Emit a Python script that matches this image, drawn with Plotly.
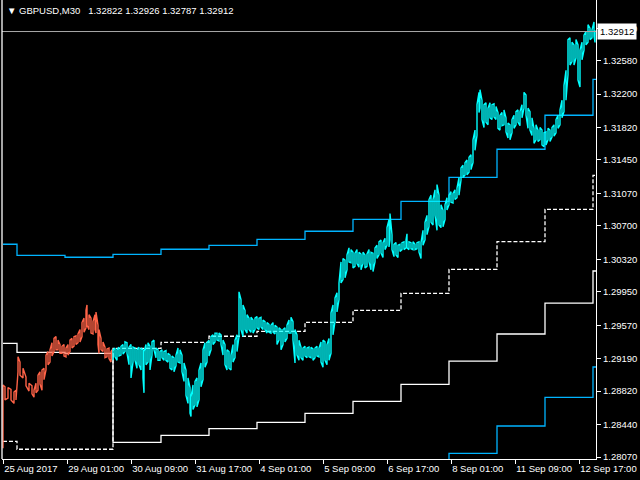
import plotly.graph_objects as go
import pandas as pd

# ---------------- data ----------------
symbol_title = "\u25bc GBPUSD,M30\u00a0\u00a0 1.32822 1.32926 1.32787 1.32912"
last_price = 1.32912
trend_switch = "2017-08-30 00:00"

bar_time = [
    "08-25 17:00", "08-25 18:00", "08-25 19:30", "08-25 21:00", "08-25 22:30", "08-25 23:30",
    "08-28 00:30", "08-28 01:30", "08-28 03:00", "08-28 04:30", "08-28 06:00", "08-28 07:30",
    "08-28 08:30", "08-28 09:30", "08-28 10:30", "08-28 11:30", "08-28 12:30", "08-28 13:30",
    "08-28 14:30", "08-28 15:30", "08-28 16:30", "08-28 17:30", "08-28 18:30", "08-28 19:30",
    "08-28 20:30", "08-28 21:30", "08-28 22:30", "08-28 23:30",
    "08-29 00:30", "08-29 01:30", "08-29 02:30", "08-29 03:30", "08-29 04:30", "08-29 05:30",
    "08-29 06:30", "08-29 07:30", "08-29 08:30", "08-29 09:30", "08-29 10:30", "08-29 11:00",
    "08-29 12:00", "08-29 13:00", "08-29 14:00", "08-29 15:00", "08-29 15:30", "08-29 16:30",
    "08-29 17:00", "08-29 18:00", "08-29 19:00", "08-29 20:00", "08-29 21:00", "08-29 22:00",
    "08-29 23:00", "08-29 23:30",
    "08-30 00:00", "08-30 01:00", "08-30 02:00", "08-30 03:00", "08-30 04:00", "08-30 05:00",
    "08-30 06:00", "08-30 07:00", "08-30 08:00", "08-30 09:00", "08-30 10:00", "08-30 11:00",
    "08-30 12:00", "08-30 13:00", "08-30 14:00", "08-30 15:00", "08-30 15:30", "08-30 16:30",
    "08-30 17:30", "08-30 18:30", "08-30 19:30", "08-30 20:30", "08-30 21:30", "08-30 22:30",
    "08-30 23:30",
    "08-31 00:30", "08-31 01:30", "08-31 02:30", "08-31 03:30", "08-31 04:30", "08-31 05:30",
    "08-31 06:30", "08-31 07:30", "08-31 08:30", "08-31 09:30", "08-31 10:30", "08-31 11:30",
    "08-31 12:30", "08-31 13:30", "08-31 14:30", "08-31 15:00", "08-31 16:00", "08-31 17:00",
    "08-31 18:00", "08-31 19:00", "08-31 20:00", "08-31 21:00", "08-31 22:00", "08-31 23:00",
    "09-01 00:00", "09-01 01:00", "09-01 02:00", "09-01 03:00", "09-01 04:00", "09-01 05:00",
    "09-01 06:00", "09-01 07:00", "09-01 08:00", "09-01 09:00", "09-01 10:00", "09-01 11:00",
    "09-01 12:00", "09-01 13:00", "09-01 14:00", "09-01 15:00", "09-01 16:00", "09-01 17:00",
    "09-01 18:00", "09-01 19:00", "09-01 20:00", "09-01 21:00", "09-01 22:00", "09-01 23:00",
    "09-04 00:00", "09-04 01:00", "09-04 02:00", "09-04 03:00", "09-04 04:00", "09-04 05:00",
    "09-04 06:00", "09-04 07:00", "09-04 08:00", "09-04 09:00", "09-04 10:00", "09-04 11:00",
    "09-04 12:00", "09-04 13:00", "09-04 14:00", "09-04 15:00", "09-04 16:00", "09-04 17:00",
    "09-04 18:00", "09-04 19:00", "09-04 20:00", "09-04 21:00", "09-04 22:00", "09-04 23:00",
    "09-05 00:00", "09-05 01:00", "09-05 02:00", "09-05 03:00", "09-05 04:00", "09-05 05:00",
    "09-05 06:00", "09-05 07:00", "09-05 08:00", "09-05 09:00", "09-05 10:00", "09-05 11:00",
    "09-05 12:00", "09-05 13:00", "09-05 14:00", "09-05 15:00", "09-05 16:00", "09-05 17:00",
    "09-05 18:00", "09-05 19:00", "09-05 20:00", "09-05 21:00", "09-05 22:00", "09-05 23:00",
    "09-06 00:00", "09-06 01:00", "09-06 02:00", "09-06 03:00", "09-06 04:00", "09-06 05:00",
    "09-06 06:00", "09-06 07:00", "09-06 08:00", "09-06 09:00", "09-06 10:00", "09-06 11:00",
    "09-06 12:00", "09-06 13:00", "09-06 14:00", "09-06 15:00", "09-06 16:00", "09-06 17:00",
    "09-06 18:00", "09-06 18:30", "09-06 19:30", "09-06 20:30", "09-06 21:30", "09-06 22:30",
    "09-06 23:30",
    "09-07 00:30", "09-07 01:30", "09-07 02:30", "09-07 03:00", "09-07 04:00", "09-07 05:00",
    "09-07 06:00", "09-07 07:00", "09-07 08:00", "09-07 09:00", "09-07 10:00", "09-07 11:00",
    "09-07 12:00", "09-07 13:00", "09-07 14:00", "09-07 15:00", "09-07 16:00", "09-07 17:00",
    "09-07 18:00", "09-07 19:00", "09-07 20:00", "09-07 21:00", "09-07 22:00", "09-07 23:00",
    "09-08 00:00", "09-08 01:00", "09-08 02:00", "09-08 03:00", "09-08 04:00", "09-08 05:00",
    "09-08 06:00", "09-08 07:00", "09-08 08:00", "09-08 09:00", "09-08 10:00", "09-08 11:00",
    "09-08 12:00", "09-08 13:00", "09-08 14:00", "09-08 15:00", "09-08 15:30", "09-08 16:30",
    "09-08 17:30", "09-08 18:30", "09-08 19:30", "09-08 20:30", "09-08 21:30", "09-08 22:30",
    "09-08 23:30",
    "09-11 00:30", "09-11 01:30", "09-11 02:30", "09-11 03:30", "09-11 04:30", "09-11 05:30",
    "09-11 06:30", "09-11 07:30", "09-11 08:30", "09-11 09:30", "09-11 10:30", "09-11 11:30",
    "09-11 12:30", "09-11 13:30", "09-11 14:30", "09-11 15:30", "09-11 16:30", "09-11 17:30",
    "09-11 18:30", "09-11 19:30", "09-11 20:30", "09-11 21:30", "09-11 22:30", "09-11 23:30",
    "09-12 00:30", "09-12 01:30", "09-12 02:30", "09-12 03:30", "09-12 04:30", "09-12 05:30",
    "09-12 06:30", "09-12 07:30", "09-12 08:30", "09-12 09:30", "09-12 10:30", "09-12 11:30",
    "09-12 12:30", "09-12 13:30", "09-12 14:30", "09-12 15:30", "09-12 16:30", "09-12 17:30",
    "09-12 18:30", "09-12 19:30", "09-12 20:30", "09-12 21:30", "09-12 22:30", "09-12 23:30",
    "09-13 00:30", "09-13 01:00",
]

bar_high = [
    1.2889, 1.2887, 1.2886, 1.2884, 1.2881, 1.2883,
    1.2921, 1.2915, 1.2908, 1.2898, 1.2891, 1.2888,
    1.2883, 1.2891, 1.2900, 1.2904, 1.2906, 1.2908,
    1.2923, 1.2927, 1.2929, 1.2937, 1.2942, 1.2944,
    1.2940, 1.2935, 1.2933, 1.2935,
    1.2931, 1.2935, 1.2940, 1.2942, 1.2944, 1.2945,
    1.2947, 1.2952, 1.2960, 1.2965, 1.2974, 1.2980,
    1.2969, 1.2965, 1.2961, 1.2969, 1.2972, 1.2957,
    1.2952, 1.2942, 1.2938, 1.2932, 1.2930, 1.2931,
    1.2927, 1.2929,
    1.2929, 1.2931, 1.2929, 1.2932, 1.2933, 1.2935,
    1.2938, 1.2937, 1.2932, 1.2935, 1.2932, 1.2931,
    1.2929, 1.2932, 1.2931, 1.2929, 1.2927, 1.2935,
    1.2937, 1.2933, 1.2938, 1.2940, 1.2931, 1.2929,
    1.2927,
    1.2929, 1.2927, 1.2928, 1.2925, 1.2923, 1.2922,
    1.2920, 1.2923, 1.2931, 1.2929, 1.2923, 1.2914,
    1.2906, 1.2897, 1.2886, 1.2875, 1.2889, 1.2893,
    1.2897, 1.2906, 1.2914, 1.2929, 1.2937, 1.2937,
    1.2940, 1.2944, 1.2946, 1.2948, 1.2948, 1.2948,
    1.2946, 1.2940, 1.2935, 1.2929, 1.2927, 1.2923,
    1.2935, 1.2940, 1.2946, 1.2995, 1.2986, 1.2980,
    1.2974, 1.2969, 1.2965, 1.2966, 1.2963, 1.2965,
    1.2967, 1.2965, 1.2966, 1.2963, 1.2961, 1.2960,
    1.2958, 1.2957, 1.2960, 1.2957, 1.2955, 1.2954,
    1.2952, 1.2952, 1.2954, 1.2957, 1.2963, 1.2966,
    1.2961, 1.2952, 1.2946, 1.2940, 1.2932, 1.2931,
    1.2933, 1.2931, 1.2932, 1.2932, 1.2930, 1.2931,
    1.2933, 1.2931, 1.2938, 1.2940, 1.2938, 1.2935,
    1.2942, 1.2971, 1.2980, 1.2988, 1.2994, 1.3005,
    1.3029, 1.3033, 1.3031, 1.3037, 1.3045, 1.3043,
    1.3040, 1.3039, 1.3043, 1.3040, 1.3038, 1.3040,
    1.3037, 1.3038, 1.3043, 1.3040, 1.3039, 1.3045,
    1.3048, 1.3052, 1.3054, 1.3051, 1.3056, 1.3068,
    1.3077, 1.3084, 1.3060, 1.3049, 1.3051, 1.3048,
    1.3049,
    1.3051, 1.3052, 1.3054, 1.3061, 1.3052, 1.3051,
    1.3052, 1.3049, 1.3051, 1.3052, 1.3051, 1.3065,
    1.3074, 1.3082, 1.3100, 1.3105, 1.3100, 1.3111,
    1.3117, 1.3105, 1.3094, 1.3088, 1.3094, 1.3102,
    1.3105, 1.3109, 1.3107, 1.3111, 1.3113, 1.3125,
    1.3136, 1.3139, 1.3142, 1.3145, 1.3148, 1.3151,
    1.3168, 1.3179, 1.3208, 1.3222, 1.3225, 1.3213,
    1.3208, 1.3210, 1.3204, 1.3210, 1.3208, 1.3209,
    1.3206,
    1.3199, 1.3196, 1.3199, 1.3202, 1.3193, 1.3187,
    1.3185, 1.3191, 1.3196, 1.3200, 1.3202, 1.3200,
    1.3208, 1.3222, 1.3219, 1.3204, 1.3200, 1.3193,
    1.3181, 1.3185, 1.3179, 1.3182, 1.3179, 1.3176,
    1.3177, 1.3181, 1.3179, 1.3182, 1.3185, 1.3191,
    1.3196, 1.3202, 1.3213, 1.3230, 1.3247, 1.3282,
    1.3284, 1.3279, 1.3276, 1.3282, 1.3276, 1.3270,
    1.3279, 1.3287, 1.3291, 1.3299, 1.3295, 1.3293,
    1.3302, 1.32926,
]

bar_low = [
    1.2817, 1.2872, 1.2874, 1.2872, 1.2868, 1.2872,
    1.2904, 1.2900, 1.2897, 1.2888, 1.2882, 1.2879,
    1.2875, 1.2880, 1.2883, 1.2890, 1.2883, 1.2895,
    1.2906, 1.2912, 1.2915, 1.2922, 1.2927, 1.2929,
    1.2929, 1.2925, 1.2925, 1.2922,
    1.2921, 1.2923, 1.2927, 1.2931, 1.2933, 1.2935,
    1.2937, 1.2938, 1.2944, 1.2949, 1.2954, 1.2957,
    1.2952, 1.2948, 1.2947, 1.2952, 1.2948, 1.2935,
    1.2925, 1.2929, 1.2927, 1.2920, 1.2921, 1.2919,
    1.2915, 1.2917,
    1.2917, 1.2921, 1.2917, 1.2922, 1.2923, 1.2924,
    1.2927, 1.2925, 1.2912, 1.2897, 1.2915, 1.2917,
    1.2908, 1.2912, 1.2906, 1.2897, 1.2880, 1.2912,
    1.2915, 1.2906, 1.2923, 1.2929, 1.2920, 1.2917,
    1.2917,
    1.2920, 1.2917, 1.2917, 1.2915, 1.2908, 1.2906,
    1.2904, 1.2911, 1.2915, 1.2914, 1.2904, 1.2893,
    1.2877, 1.2868, 1.2857, 1.2853, 1.2861, 1.2866,
    1.2864, 1.2872, 1.2887, 1.2895, 1.2909, 1.2915,
    1.2922, 1.2929, 1.2935, 1.2938, 1.2940, 1.2939,
    1.2935, 1.2923, 1.2912, 1.2906, 1.2908, 1.2906,
    1.2915, 1.2920, 1.2927, 1.2944, 1.2952, 1.2944,
    1.2952, 1.2948, 1.2952, 1.2949, 1.2948, 1.2952,
    1.2954, 1.2952, 1.2955, 1.2952, 1.2952, 1.2948,
    1.2949, 1.2948, 1.2949, 1.2947, 1.2935, 1.2940,
    1.2929, 1.2935, 1.2938, 1.2942, 1.2948, 1.2948,
    1.2940, 1.2914, 1.2923, 1.2917, 1.2920, 1.2917,
    1.2922, 1.2920, 1.2921, 1.2920, 1.2917, 1.2920,
    1.2922, 1.2921, 1.2915, 1.2909, 1.2917, 1.2912,
    1.2917, 1.2925, 1.2946, 1.2961, 1.2972, 1.2986,
    1.3005, 1.3009, 1.3011, 1.3020, 1.3029, 1.3028,
    1.3022, 1.3024, 1.3027, 1.3023, 1.3020, 1.3027,
    1.3022, 1.3024, 1.3029, 1.3020, 1.3018, 1.3029,
    1.3033, 1.3037, 1.3039, 1.3034, 1.3043, 1.3048,
    1.3046, 1.3054, 1.3043, 1.3035, 1.3037, 1.3034,
    1.3041,
    1.3043, 1.3043, 1.3045, 1.3045, 1.3043, 1.3044,
    1.3043, 1.3043, 1.3044, 1.3040, 1.3033, 1.3048,
    1.3054, 1.3060, 1.3069, 1.3074, 1.3071, 1.3082,
    1.3065, 1.3071, 1.3068, 1.3069, 1.3077, 1.3088,
    1.3094, 1.3097, 1.3096, 1.3100, 1.3102, 1.3105,
    1.3122, 1.3125, 1.3128, 1.3128, 1.3131, 1.3134,
    1.3142, 1.3156, 1.3173, 1.3199, 1.3204, 1.3191,
    1.3182, 1.3188, 1.3185, 1.3193, 1.3191, 1.3194,
    1.3191,
    1.3181, 1.3179, 1.3184, 1.3185, 1.3177, 1.3170,
    1.3168, 1.3176, 1.3181, 1.3185, 1.3188, 1.3184,
    1.3193, 1.3204, 1.3196, 1.3181, 1.3179, 1.3173,
    1.3164, 1.3168, 1.3166, 1.3168, 1.3162, 1.3160,
    1.3162, 1.3168, 1.3166, 1.3171, 1.3172, 1.3176,
    1.3181, 1.3185, 1.3193, 1.3200, 1.3213, 1.3242,
    1.3253, 1.3257, 1.3253, 1.3261, 1.3236, 1.3228,
    1.3259, 1.3270, 1.3276, 1.3279, 1.3282, 1.3284,
    1.3286, 1.32787,
]

# daily stepped levels (value valid from each day start)
level_days = ["08-25 17:00", "08-28 00:00", "08-29 00:00", "08-30 00:00", "08-31 00:00",
              "09-01 00:00", "09-04 00:00", "09-05 00:00", "09-06 00:00", "09-07 00:00",
              "09-08 00:00", "09-11 00:00", "09-12 00:00", "09-13 00:00"]
upper_blue = [1.30491, 1.30365, 1.30343, 1.30377, 1.30434, 1.30479, 1.30547,
              1.30639, 1.30775, 1.30980, 1.31253, 1.31572, 1.31959, 1.32368]
white_solid = [1.29364, 1.29261, 1.29250, 1.28237, 1.28317, 1.28394, 1.28463,
               1.28567, 1.28704, 1.28897, 1.29162, 1.29470, 1.29822, 1.30187]
white_dashed = [1.28249, 1.28158, 1.28158, 1.29307, 1.29375, 1.29444, 1.29500,
                1.29603, 1.29739, 1.29933, 1.30206, 1.30520, 1.30889, 1.31276]
lower_blue_days = ["09-07 00:00", "09-08 00:00", "09-11 00:00", "09-12 00:00", "09-13 00:00"]
lower_blue = [1.27900, 1.28112, 1.28423, 1.28749, 1.29094]

x_tick_times = ["08-25 17:00", "08-29 01:00", "08-30 09:00", "08-31 17:00", "09-04 01:00",
                "09-05 09:00", "09-06 17:00", "09-08 01:00", "09-11 09:00", "09-12 17:00"]
x_tick_text = ["25 Aug 2017", "29 Aug 01:00", "30 Aug 09:00", "31 Aug 17:00", "4 Sep 01:00",
               "5 Sep 09:00", "6 Sep 17:00", "8 Sep 01:00", "11 Sep 09:00", "12 Sep 17:00"]
y_ticks = [1.28070, 1.28440, 1.28820, 1.29190, 1.29570, 1.29950, 1.30320,
           1.30700, 1.31070, 1.31450, 1.31820, 1.32200, 1.32580, 1.32950]

x_start, x_end = "08-25 16:30", "09-13 01:30"
y_min, y_max = 1.280473, 1.332707

assert len(bar_time) == len(bar_high) == len(bar_low), (len(bar_time), len(bar_high), len(bar_low))

# ---------------- build ----------------
def ts(s):
    return pd.Timestamp("2017-" + s)

FONT = "Liberation Sans"
FS = 9.5
BLUE = "#00B4FF"
fig = go.Figure()

times = [ts(t) for t in bar_time]
switch = pd.Timestamp(trend_switch)


def zigzag(idx):
    xs, ys = [], []
    for k, i in enumerate(idx):
        xs += [times[i], times[i]]
        if k % 2 == 0:
            ys += [bar_low[i], bar_high[i]]
        else:
            ys += [bar_high[i], bar_low[i]]
    return xs, ys


red_idx = [i for i, t in enumerate(times) if t < switch]
cyan_idx = [i for i, t in enumerate(times) if t >= switch]


def step_trace(days, vals, color, dash):
    xs = [ts(d) for d in days] + [ts(x_end)]
    ys = list(vals) + [vals[-1]]
    fig.add_trace(go.Scatter(x=xs, y=ys, mode="lines", line_shape="hv",
                             line=dict(color=color, width=1.3, dash=dash),
                             hoverinfo="skip"))


step_trace(level_days, upper_blue, BLUE, "solid")
step_trace(level_days, white_solid, "#FFFFFF", "solid")
step_trace(level_days, white_dashed, "#FFFFFF", "4px,2px")
step_trace(lower_blue_days, lower_blue, BLUE, "solid")

rx, ry = zigzag(red_idx)
fig.add_trace(go.Scatter(x=rx, y=ry, mode="lines", line=dict(color="#FF6347", width=1.4),
                         hoverinfo="skip"))
cx, cy = zigzag(cyan_idx)
fig.add_trace(go.Scatter(x=cx, y=cy, mode="lines", line=dict(color="#00FFFF", width=1.4),
                         hoverinfo="skip"))

# current price line
fig.add_shape(type="line", xref="paper", x0=0, x1=1, yref="y", y0=last_price, y1=last_price,
              line=dict(color="#A8A8A8", width=1))
# left frame
fig.add_shape(type="line", xref="paper", x0=0, x1=0, yref="paper", y0=0, y1=1,
              line=dict(color="white", width=1.3))

fig.add_annotation(xref="paper", yref="y", x=1, y=last_price, xanchor="left", yanchor="middle",
                   text=f"{last_price:.5f}", showarrow=False, bgcolor="white",
                   font=dict(family=FONT, size=FS, color="black"), borderpad=2, xshift=1)
fig.add_annotation(xref="paper", yref="paper", x=0, y=1, xanchor="left", yanchor="top",
                   text=symbol_title, showarrow=False, xshift=3, yshift=-3,
                   font=dict(family=FONT, size=FS, color="white"))

fig.update_layout(
    width=640, height=480,
    margin=dict(l=2, r=44, t=0, b=21, autoexpand=False),
    paper_bgcolor="black", plot_bgcolor="black",
    showlegend=False,
)
fig.update_xaxes(
    type="date", range=[ts(x_start), ts(x_end)],
    rangebreaks=[dict(bounds=["sat", "mon"])],
    tickvals=[ts(t) for t in x_tick_times], ticktext=x_tick_text,
    tickangle=0, automargin=False,
    ticks="outside", ticklen=4, tickcolor="white", tickwidth=1,
    ticklabelposition="outside right",
    showline=True, linecolor="white", linewidth=1.3,
    showgrid=False, zeroline=False,
    tickfont=dict(family=FONT, size=FS, color="white"),
)
fig.update_yaxes(
    side="right", range=[y_min, y_max], automargin=False,
    tickvals=y_ticks, ticktext=[f"{v:.5f}" for v in y_ticks],
    ticks="outside", ticklen=4, tickcolor="white", tickwidth=1,
    showline=True, linecolor="white", linewidth=1.3,
    showgrid=False, zeroline=False,
    tickfont=dict(family=FONT, size=FS, color="white"),
)

fig.write_html(
    "out.html",
    config={"displayModeBar": False},
    post_script="document.body.style.margin='0';document.body.style.background='black';",
)
